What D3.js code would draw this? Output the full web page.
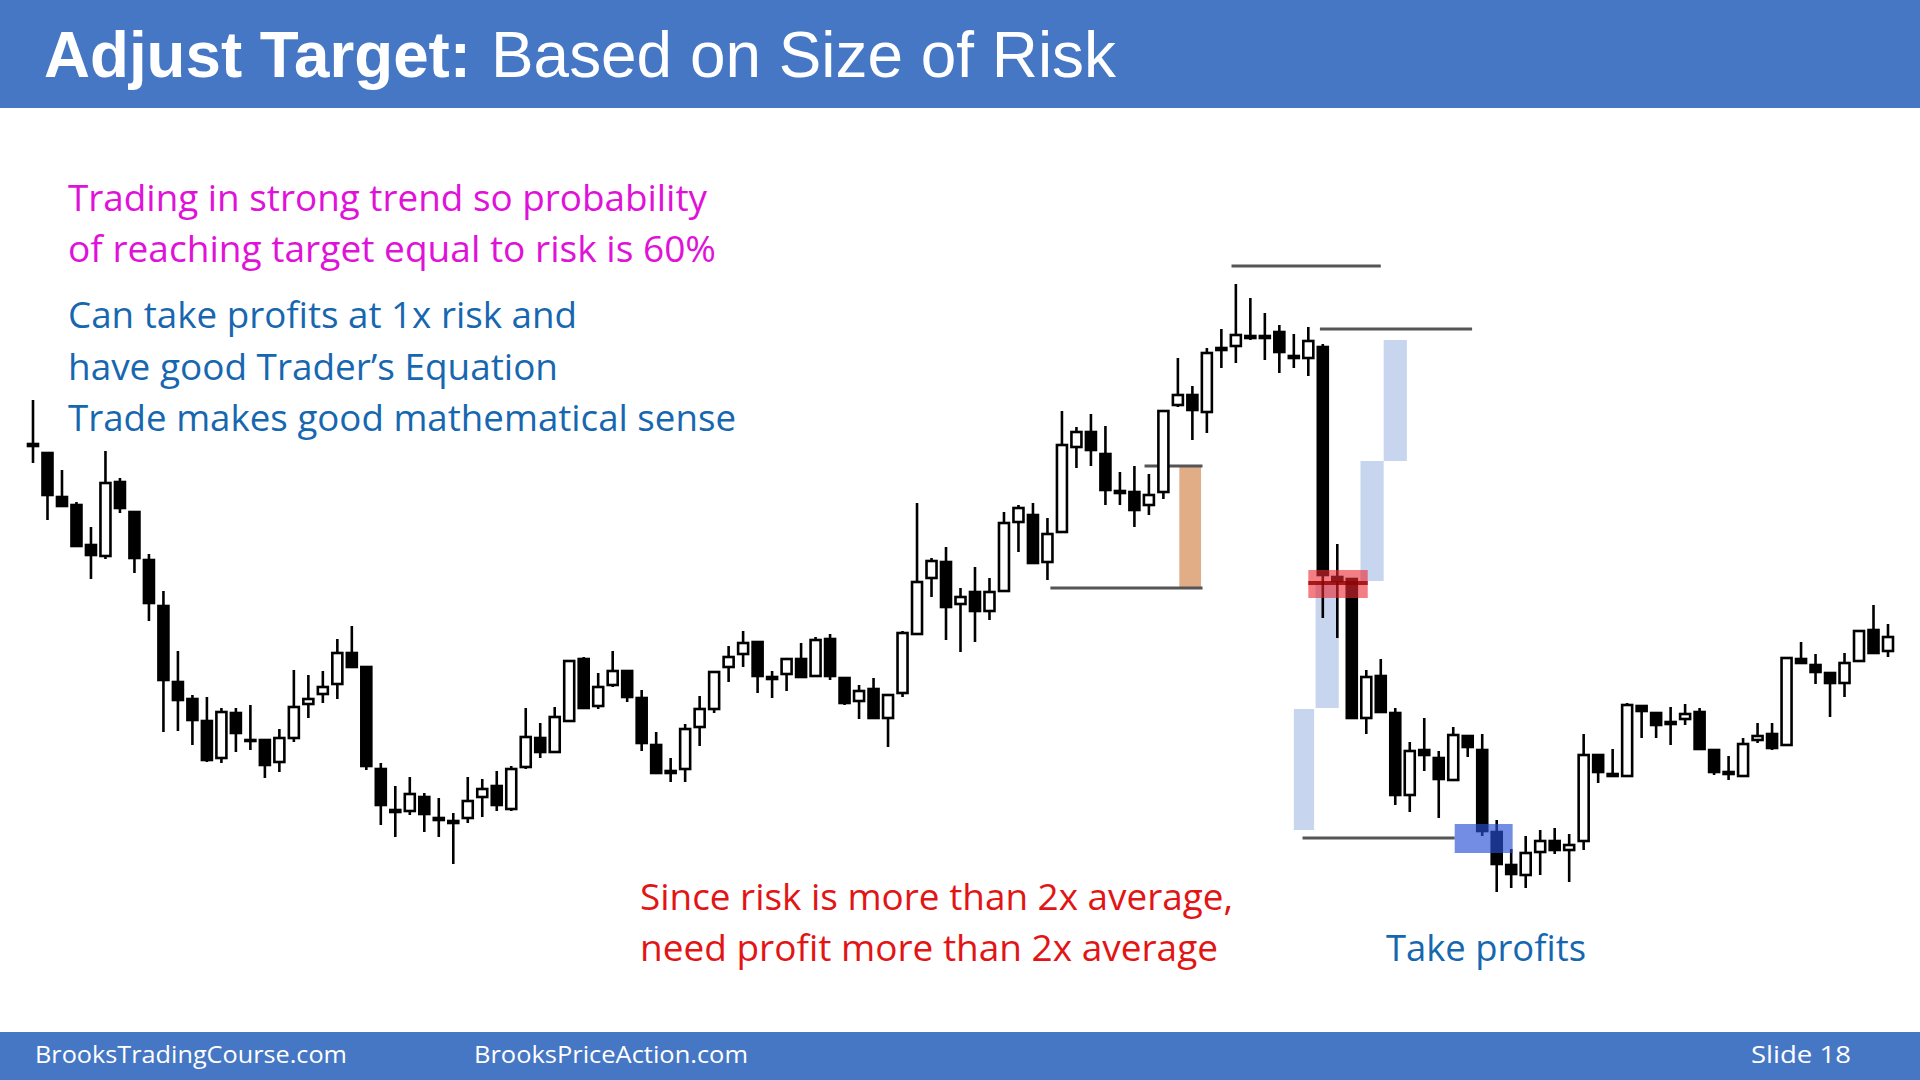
<!DOCTYPE html>
<html><head><meta charset="utf-8">
<script src="https://cdn.jsdelivr.net/npm/d3@7"></script>
<style>html,body{margin:0;padding:0;background:#fff;}svg{display:block}</style>
</head><body>
<script>
const openP  = [556,547,503,495,455,444,518,488,440,394,318,301,279,242,287,260,260,238,262,296,306,316,347,333,231,190,189,203,182,179,182,203,214,191,233,262,248,279,341,294,315,329,302,255,229,231,273,291,333,346,358,323,326,341,324,361,322,299,311,282,307,366,422,438,396,408,389,409,478,485,438,468,553,568,546,509,508,495,508,595,605,588,652,654,664,664,668,644,642,653,423,421,282,324,287,205,250,242,220,264,250,168,135,125,148,159,150,159,245,226,224,294,287,278,281,288,250,228,224,260,266,255,341,335,327,317,339,370,349];
const highP  = [600,547,530,498,473,549,522,488,446,409,349,305,303,292,292,295,260,271,330,325,329,361,374,333,237,214,223,207,202,187,223,221,229,234,292,277,293,339,343,327,349,329,310,268,242,276,304,328,354,369,358,329,342,357,363,366,322,315,322,305,369,497,442,453,412,433,422,488,495,497,482,589,573,586,574,528,534,526,589,642,614,652,671,716,702,687,675,666,673,656,456,421,330,341,292,258,282,249,273,264,266,180,151,164,170,172,166,266,245,251,297,295,287,293,296,292,250,244,262,277,277,342,358,346,327,347,369,395,376];
const lowP   = [537,480,493,454,421,441,487,427,379,268,269,255,238,237,248,250,222,228,258,282,297,301,332,230,175,163,185,168,163,136,177,183,189,189,231,242,247,278,292,291,313,298,249,226,218,218,254,287,318,333,307,302,309,323,323,320,295,281,282,253,303,366,403,360,348,358,380,409,448,437,420,468,532,534,495,495,473,485,501,593,560,567,632,637,660,640,627,632,624,382,362,281,266,288,195,188,229,182,219,243,164,108,112,112,125,146,118,150,217,223,223,262,262,255,275,250,225,220,223,257,250,254,337,316,283,303,338,347,343];
const closeP = [554,505,494,454,445,517,492,442,397,320,300,280,240,288,267,259,235,262,293,301,313,347,333,234,195,188,206,186,180,177,199,211,195,231,263,248,283,339,292,313,329,303,257,227,227,271,291,328,343,357,324,321,341,323,360,324,297,309,282,305,367,418,439,393,403,389,408,477,492,437,466,555,568,550,510,507,490,505,589,605,590,647,650,665,662,662,648,642,659,425,419,282,323,288,205,249,245,221,265,253,169,136,126,147,159,150,155,245,228,224,295,289,275,276,286,251,228,226,256,264,252,342,337,328,317,337,369,347,363];

// annotation levels (price units) and spans (bar index units)
const grayLines = [[82.7,93.0,734],[88.8,99.3,671],[76.7,80.7,534],[70.2,80.7,412],[87.6,98.1,162]];
const lightBlue = [[93.2,94.8,660,539],[91.6,93.2,539,419],[88.5,90.1,419,292],[87.0,88.4,291,170]];
const orangeBox = [79.1,80.6,535,412];
const redBox = [88.0,92.1,430,402,417];
const blueBox = [98.1,102.1,176,147];

const W=1920,H=1080;
const svg=d3.select("body").append("svg").attr("width",W).attr("height",H);
const x=d3.scaleLinear().domain([0,128]).range([33,1888]);
const y=d3.scaleLinear().domain([100,900]).range([900,100]);

svg.append("rect").attr("x",0).attr("y",0).attr("width",W).attr("height",108).attr("fill","#4677C5");
svg.append("rect").attr("x",0).attr("y",1032).attr("width",W).attr("height",48).attr("fill","#4677C5");
const tf="'Liberation Sans',Arial,sans-serif";
svg.append("text").attr("x",44).attr("y",77).attr("fill","#fff").attr("font-weight","bold").attr("textLength",427).attr("lengthAdjust","spacingAndGlyphs").style("font-family",tf).style("font-size","64px").text("Adjust Target:");
svg.append("text").attr("x",491).attr("y",77).attr("fill","#fff").attr("textLength",625).attr("lengthAdjust","spacingAndGlyphs").style("font-family",tf).style("font-size","64px").text("Based on Size of Risk");
const foot=[["BrooksTradingCourse.com",35,312],["BrooksPriceAction.com",474,274],["Slide  18",1751,100]];
foot.forEach(f=>svg.append("text").attr("x",f[1]).attr("y",1063).attr("fill","#fff").attr("textLength",f[2]).attr("lengthAdjust","spacingAndGlyphs").style("font-family","'Open Sans',sans-serif").style("font-size","23px").text(f[0]));

const lines=[
 ["Trading in strong trend so probability",68,211,639,"#E011D8"],
 ["of reaching target equal to risk is 60%",68,262,648,"#E011D8"],
 ["Can take profits at 1x risk and",68,328,509,"#1767B0"],
 ["have good Trader\u2019s Equation",68,380,490,"#1767B0"],
 ["Trade makes good mathematical sense",68,431,668,"#1767B0"],
 ["Since risk is more than 2x average,",640,910,593,"#E21414"],
 ["need profit more than 2x average",640,961,578,"#E21414"],
 ["Take profits",1386,961,200,"#1767B0"]];
lines.forEach(l=>svg.append("text").attr("x",l[1]).attr("y",l[2]).attr("fill",l[4]).attr("textLength",l[3]).attr("lengthAdjust","spacingAndGlyphs").style("font-family","'Open Sans',sans-serif").style("font-size","36px").text(l[0]));

const g=svg.append("g");
const bw=10;
lightBlue.forEach(r=>g.append("rect").attr("x",x(r[0])).attr("width",x(r[1])-x(r[0])).attr("y",y(r[2])).attr("height",y(r[3])-y(r[2])).attr("fill","#C8D5EE"));
g.append("rect").attr("x",x(orangeBox[0])).attr("width",x(orangeBox[1])-x(orangeBox[0])).attr("y",y(orangeBox[2])).attr("height",y(orangeBox[3])-y(orangeBox[2])).attr("fill","#E0AD86");
grayLines.forEach(l=>g.append("line").attr("x1",x(l[0])).attr("x2",x(l[1])).attr("y1",y(l[2])).attr("y2",y(l[2])).attr("stroke","#555").attr("stroke-width",3));

const idx=d3.range(openP.length);
g.selectAll(".wick").data(idx).join("line").attr("x1",i=>x(i)).attr("x2",i=>x(i)).attr("y1",i=>y(highP[i])).attr("y2",i=>y(lowP[i])).attr("stroke","#000").attr("stroke-width",2.6);
g.selectAll(".body").data(idx).join("rect")
 .attr("x",i=>x(i)-bw/2).attr("width",bw)
 .attr("y",i=>y(Math.max(openP[i],closeP[i])))
 .attr("height",i=>Math.max(1,Math.abs(y(openP[i])-y(closeP[i]))))
 .attr("fill",i=>closeP[i]>openP[i]?"#fff":"#000").attr("stroke","#000").attr("stroke-width",2.6);

g.append("rect").attr("x",x(redBox[0])).attr("width",x(redBox[1])-x(redBox[0])).attr("y",y(redBox[2])).attr("height",y(redBox[3])-y(redBox[2])).attr("fill","rgba(235,40,50,0.6)");
g.append("line").attr("x1",x(redBox[0])).attr("x2",x(redBox[1])).attr("y1",y(redBox[4])).attr("y2",y(redBox[4])).attr("stroke","rgba(150,0,0,0.8)").attr("stroke-width",4);
g.append("rect").attr("x",x(blueBox[0])).attr("width",x(blueBox[1])-x(blueBox[0])).attr("y",y(blueBox[2])).attr("height",y(blueBox[3])-y(blueBox[2])).attr("fill","rgba(40,80,215,0.65)");
</script></body></html>
